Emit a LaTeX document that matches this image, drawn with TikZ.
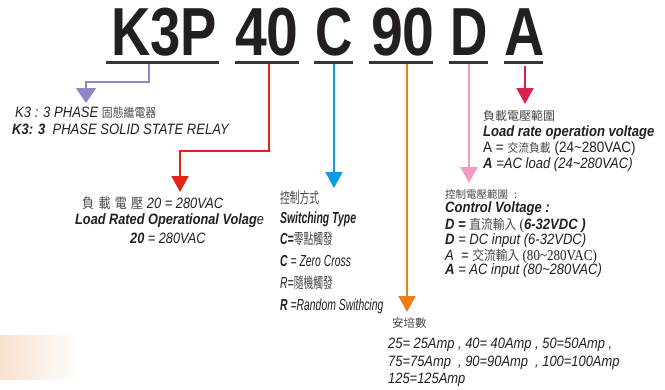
\documentclass[tikz,border=0pt]{standalone}
\usepackage{fontspec}
\setmainfont{Liberation Sans}
\newfontfamily\cjkfont{Noto Sans CJK TC}
\newfontfamily\serfont{Liberation Serif}
\usetikzlibrary{arrows.meta}
\definecolor{cPurple}{HTML}{8F86C4}
\definecolor{cRed}{HTML}{E32219}
\definecolor{cBlue}{HTML}{0A9DE3}
\definecolor{cOrange}{HTML}{EE7D1B}
\definecolor{cPink}{HTML}{F29BC3}
\definecolor{cCrimson}{HTML}{DF1F4F}
\definecolor{cPeach}{HTML}{F9E0CF}
\definecolor{cInk}{HTML}{231F20}
\definecolor{cCJK}{HTML}{4A4647}
\newcommand{\cj}[2][12.5]{{\cjkfont\upshape\mdseries\fontsize{#1}{#1}\selectfont\color{cCJK}#2}}
\newcommand{\bi}[1]{{\bfseries\itshape #1}}
\newcommand{\sx}[2]{\scalebox{#1}[1]{#2}}
\tikzset{
  titletxt/.style={anchor=base, inner sep=0, text=cInk, font=\bfseries\fontsize{68}{68}\selectfont},
  uline/.style={line width=3pt, draw=cInk!90},
  conn/.style={line width=2pt, -{Triangle[length=16pt,width=17pt]}},
  txt/.style={anchor=base west, inner sep=0, text=cInk, font=\fontsize{15}{18}\selectfont\itshape},
  btxt/.style={anchor=base west, inner sep=0, text=cInk, font=\fontsize{16}{19}\selectfont\itshape},
}
\begin{document}
\begin{tikzpicture}[x=1pt,y=-1pt]
\useasboundingbox (0,0) rectangle (665,389);
% background fade
\shade[left color=cPeach, right color=white] (0,335) rectangle (80,379);
% title
\node[titletxt] (tK3P) at (164,55) {\sx{.8}{K3P}};
\node[titletxt] (t40) at (267,55) {\sx{.84}{40}};
\node[titletxt] (tC) at (334.5,55) {\sx{.76}{C}};
\node[titletxt] (t90) at (403,55) {\sx{.84}{90}};
\node[titletxt] (tD) at (469.5,55) {\sx{.76}{D}};
\node[titletxt] (tA) at (525,55) {\sx{.82}{A}};
% underlines
\draw[uline] (106,62) -- (219,62);
\draw[uline] (235,62) -- (299,62);
\draw[uline] (314,62) -- (353,62);
\draw[uline] (369,62) -- (433,62);
\draw[uline] (449,62) -- (488,62);
\draw[uline] (504,62) -- (543,62);
% connector coordinates
\coordinate (s1) at (149,63.5);
\coordinate (p1) at (86,82);
\coordinate (t1) at (86,103);
\coordinate (s2) at (269,63.5);
\coordinate (p2) at (180,151);
\coordinate (t2) at (180,192);
\coordinate (s3) at (334,63.5);
\coordinate (t3) at (334,188);
\coordinate (s4) at (407,63.5);
\coordinate (t4) at (407,312);
\coordinate (s5) at (469,63.5);
\coordinate (t5) at (469,183);
\coordinate (s6) at (525,66);
\coordinate (t6) at (525,104);
\draw[conn, cPurple, -{Triangle[length=15pt,width=20pt]}] (s1) |- (p1) -- (t1);
\draw[conn, cRed] (s2) |- (p2) -- (t2);
\draw[conn, cBlue] (s3) -- (t3);
\draw[conn, cOrange] (s4) -- (t4);
\draw[conn, cPink] (s5) -- (t5);
\draw[conn, cCrimson] (s6) -- (t6);
% purple block
\node[txt] (k1) at (15,117) {\sx{.87}{K3 : 3 PHASE \cj{固態繼電器}}};
\node[txt] (k2) at (12,134) {\sx{.87}{\bi{K3: 3}\ \ PHASE SOLID STATE RELAY}};
% red block
\node[txt] (r1) at (82,208) {\sx{.86}{\cj[14]{負\hspace{5pt}載\hspace{5pt}電\hspace{5pt}壓} 20 = 280VAC}};
\node[txt] (r2) at (75,224) {\sx{.85}{\bi{Load Rated Operational Volag}e}};
\node[txt] (r3) at (130,243) {\sx{.85}{\bi{20} = 280VAC}};
% blue block
\node[btxt] (b1) at (280,203) {\sx{.65}{\cj[15]{控制方式}}};
\node[btxt] (b2) at (280,223) {\sx{.65}{\bi{Switching Type}}};
\node[btxt] (b3) at (280,244) {\sx{.65}{\bi{C=}\cj[15]{零點觸發}}};
\node[btxt] (b4) at (280,266) {\sx{.65}{\bi{C} = Zero Cross}};
\node[btxt] (b5) at (280,288) {\sx{.65}{R=\cj[15]{隨機觸發}}};
\node[btxt] (b6) at (280,310) {\sx{.65}{\bi{R} =Random Swithcing}};
% orange block
\node[txt] (o1) at (392,327) {\cj[11.5]{安培數}};
\node[txt] (o2) at (388,348) {\sx{.86}{25= 25Amp , 40= 40Amp , 50=50Amp ,}};
\node[txt] (o3) at (388,366) {\sx{.86}{75=75Amp\ \ , 90=90Amp\ \ , 100=100Amp}};
\node[txt] (o4) at (388,383) {\sx{.86}{125=125Amp}};
% crimson block
\node[txt] (c1) at (483,120) {\cj[12]{負載電壓範圍}};
\node[txt] (c2) at (483,136) {\sx{.87}{\bi{Load rate operation voltage}}};
\node[txt] (c3) at (483,152) {\sx{.9}{\upshape A = \cj[12]{交流負載} (24\textasciitilde 280VAC)}};
\node[txt] (c4) at (483,168) {\sx{.87}{\bi{A} =AC load (24\textasciitilde 280VAC)}};
% pink block
\node[txt] (q1) at (445,198) {\cj[10.5]{控制電壓範圍}\hspace{6pt}\cj[10.5]{:}};
\node[txt] (q2) at (445,212) {\sx{.87}{\bi{Control Voltage :}}};
\node[txt] (q3) at (445,229) {\sx{.87}{\bi{D =} \cj[13.5]{直流輸入}{\serfont\upshape\ (}\bi{6-32VDC )}}};
\node[txt] (q4) at (445,244) {\sx{.87}{\bi{D} = DC input (6-32VDC)}};
\node[txt] (q5) at (445,260) {\sx{.87}{A\ \ = \cj[13.5]{交流輸入}{\serfont\upshape\ (80\textasciitilde 280VAC)}}};
\node[txt] (q6) at (445,274) {\sx{.87}{\bi{A} = AC input (80\textasciitilde 280VAC)}};
\end{tikzpicture}
\end{document}
